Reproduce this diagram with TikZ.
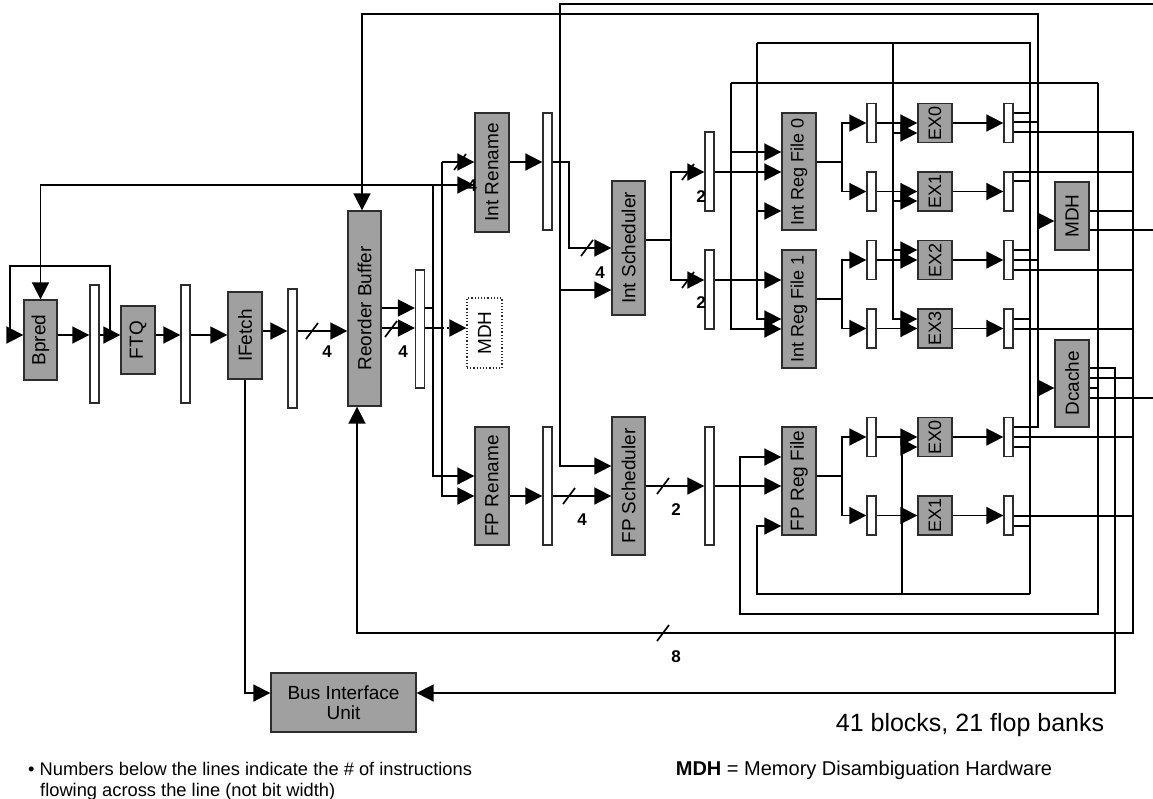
\documentclass[tikz,border=0pt]{standalone}
\usepackage{fontspec}
\setmainfont{Liberation Sans}
\usetikzlibrary{arrows.meta, positioning}
\definecolor{blockgray}{RGB}{160, 160, 160}
\definecolor{edgedark}{RGB}{45, 45, 45}
\newcommand{\busslash}[2]{\draw[wire] (#1,#2) ++(-6,8) -- ++(12,-16);}

\begin{document}
\begin{tikzpicture}[x=1pt, y=-1pt,
    wire/.style={line width=1.7pt},
    arr/.style={line width=1.7pt, -{Triangle[length=17pt, width=17pt]}},
    blk/.style={rectangle, draw=edgedark, fill=blockgray, line width=1.3pt, inner sep=0pt, font=\fontsize{19}{20}\selectfont},
    flop/.style={rectangle, draw=edgedark, fill=white, line width=1.3pt, inner sep=0pt, minimum width=9pt},
    num/.style={inner sep=0pt, font=\fontsize{17}{17}\selectfont\bfseries}]
  \useasboundingbox (0,0) rectangle (1153,798);

  % front end
  \node[blk, minimum width=33, minimum height=80] (bpred) at (40.5,340) {\rotatebox{90}{Bpred}};
  \node[flop, minimum height=118] (fl1) at (94.5,344) {};
  \node[blk, minimum width=34, minimum height=68] (ftq) at (138,340) {\rotatebox{90}{FTQ}};
  \node[flop, minimum height=118] (fl2) at (185.5,344) {};
  \node[blk, minimum width=34, minimum height=87] (ifetch) at (245,335.5) {\rotatebox{90}{IFetch}};
  \node[flop, minimum height=119] (fl3) at (292.5,348.5) {};
  \node[blk, minimum width=33, minimum height=195] (rob) at (364.5,308.5) {\rotatebox{90}{Reorder Buffer}};
  \node[flop, minimum height=118] (fl4) at (420,329) {};
  \node[rectangle, draw=edgedark, dotted, fill=white, line width=1.2pt, inner sep=0pt, minimum width=35, minimum height=70, font=\fontsize{19}{20}\selectfont] (mdhsel) at (484.5,333) {\rotatebox{90}{MDH}};
  \node[blk, minimum width=145, minimum height=59, align=center] (biu) at (343.5,702.5) {Bus Interface\\Unit};

  % integer side
  \node[blk, minimum width=34, minimum height=119] (irn) at (492,172.5) {\rotatebox{90}{Int Rename}};
  \node[flop, minimum height=117] (fl5) at (547.5,171.5) {};
  \node[blk, minimum width=33, minimum height=134] (isch) at (628.5,248) {\rotatebox{90}{Int Scheduler}};
  \node[flop, minimum height=79] (fl6) at (709.5,171.5) {};
  \node[flop, minimum height=79] (fl7) at (709.5,289.5) {};
  \node[blk, minimum width=34, minimum height=117, font=\fontsize{18}{18}\selectfont] (irf0) at (799,171.5) {\rotatebox{90}{Int Reg File 0}};
  \node[blk, minimum width=34, minimum height=118, font=\fontsize{18}{18}\selectfont] (irf1) at (799,309) {\rotatebox{90}{Int Reg File 1}};
  \foreach \i/\y in {0/123, 1/191.5, 2/260, 3/328.5} {
    \node[flop, minimum height=39] (fe\i) at (871.5,\y) {};
    \node[blk, minimum width=34, minimum height=39, font=\fontsize{18}{18}\selectfont] (ex\i) at (935,\y) {\rotatebox{90}{EX\i}};
    \node[flop, minimum height=39] (fa\i) at (1008.5,\y) {};
    \draw[arr] (fe\i) -- (ex\i);
    \draw[arr] (ex\i) -- (fa\i);
  }
  \node[blk, minimum width=34, minimum height=68] (mdh) at (1072,216) {\rotatebox{90}{MDH}};
  \node[blk, minimum width=34, minimum height=87] (dcache) at (1072,383.5) {\rotatebox{90}{Dcache}};

  % floating point side
  \node[blk, minimum width=34, minimum height=118] (fprn) at (492,486) {\rotatebox{90}{FP Rename}};
  \node[flop, minimum height=118] (fl8) at (547.5,486) {};
  \node[blk, minimum width=33, minimum height=138] (fpsch) at (628.5,486) {\rotatebox{90}{FP Scheduler}};
  \node[flop, minimum height=118] (fl9) at (709.5,486) {};
  \node[blk, minimum width=34, minimum height=108] (fprf) at (799,481) {\rotatebox{90}{FP Reg File}};
  \foreach \i/\y in {0/437, 1/515.5} {
    \node[flop, minimum height=39] (ffe\i) at (871.5,\y) {};
    \node[blk, minimum width=34, minimum height=39, font=\fontsize{18}{18}\selectfont] (fex\i) at (935,\y) {\rotatebox{90}{EX\i}};
    \node[flop, minimum height=39] (ffa\i) at (1008.5,\y) {};
    \draw[arr] (ffe\i) -- (fex\i);
    \draw[arr] (fex\i) -- (ffa\i);
  }

  % fetch pipe
  \draw[arr] (bpred.east|-0,335) -- (fl1.west|-0,335);
  \draw[arr] (fl1.east|-0,335) -- (ftq.west|-0,335);
  \draw[arr] (110,335) |- (10,266) |- (bpred.west|-0,335);
  \draw[arr] (ftq.east|-0,335) -- (fl2.west|-0,335);
  \draw[arr] (fl2.east|-0,335) -- (ifetch.west|-0,335);
  \draw[arr] (ifetch.east|-0,331) -- (fl3.west|-0,331);
  \draw[arr] (fl3.east|-0,331) -- (rob.west|-0,331);
  \busslash{312}{331}
  \draw[arr] (ifetch.south) |- (biu.west|-0,693);

  % reorder buffer to rename
  \draw[arr] (rob.east|-0,308) -- (fl4.west|-0,308);
  \draw[arr] (rob.east|-0,328) -- (fl4.west|-0,328);
  \busslash{391}{329}
  \draw[wire] (fl4.east|-0,308) -- (433,308);
  \draw[arr] (433,185) -| (bpred.north);
  \draw[arr] (433,185) -- (irn.west|-0,185);
  \draw[arr] (433,185) |- (fprn.west|-0,476);
  \draw[wire] (fl4.east|-0,328) -- (442,328);
  \draw[arr] (442,162) -- (irn.west|-0,162);
  \busslash{460}{162}
  \draw[arr] (442,162) |- (fprn.west|-0,496);
  \draw[arr, dash pattern=on 2pt off 2.5pt] (442,328) -- (mdhsel.west|-0,328);

  % rename to schedulers
  \draw[arr] (irn.east|-0,162) -- (fl5.west|-0,162);
  \draw[arr] (fl5.east|-0,162) -| (569,248) -- (isch.west|-0,248);
  \busslash{587}{248}
  \draw[arr] (1153,4) -| (560,466) -- (fpsch.west|-0,466);
  \draw[arr] (560,290) -- (isch.west|-0,290);
  \draw[arr] (fprn.east|-0,496) -- (fl8.west|-0,496);
  \draw[arr] (fl8.east|-0,496) -- (fpsch.west|-0,496);
  \busslash{569}{496}

  % schedulers to register files
  \draw[wire] (isch.east|-0,240) -- (671,240);
  \draw[arr] (671,240) |- (fl6.west|-0,172);
  \draw[arr] (671,240) |- (fl7.west|-0,280);
  \busslash{688}{172}
  \busslash{688}{280}
  \draw[arr] (fl6.east|-0,172) -- (irf0.west|-0,172);
  \draw[arr] (fl7.east|-0,280) -- (irf1.west|-0,280);
  \draw[arr] (fpsch.east|-0,486) -- (fl9.west|-0,486);
  \busslash{663}{486}
  \draw[arr] (fl9.east|-0,486) -- (fprf.west|-0,486);

  % register files to execute
  \draw[wire] (irf0.east|-0,162) -- (842,162);
  \draw[arr] (842,162) |- (fe0.west);
  \draw[arr] (842,162) |- (fe1.west);
  \draw[wire] (irf1.east|-0,299) -- (842,299);
  \draw[arr] (842,299) |- (fe2.west);
  \draw[arr] (842,299) |- (fe3.west);
  \draw[wire] (fprf.east|-0,476) -- (842,476);
  \draw[arr] (842,476) |- (ffe0.west);
  \draw[arr] (842,476) |- (ffe1.west);

  % bypass bus at y=43
  \draw[wire] (1030,594) -- (1030,43) -- (757,43);
  \draw[arr] (757,43) |- (irf1.west|-0,319);
  \draw[arr] (757,211) -- (irf0.west|-0,211);
  \draw[arr] (893,43) |- (ex3.west|-0,319);
  \draw[arr] (893,133) -- (ex0.west|-0,133);
  \draw[arr] (893,201) -- (ex1.west|-0,201);
  \draw[arr] (893,250) -- (ex2.west|-0,250);
  \draw[wire] (fa0.east|-0,113) -- (1030,113);
  \draw[wire] (fa1.east|-0,181) -- (1030,181);
  \draw[wire] (fa2.east|-0,250) -- (1030,250);
  \draw[wire] (fa3.east|-0,319) -- (1030,319);
  \draw[wire] (ffa0.east|-0,447) -- (1030,447);
  \draw[wire] (ffa1.east|-0,526) -- (1030,526);
  \draw[arr] (1030,594) -- (757,594) |- (fprf.west|-0,526);
  \draw[arr] (902,594) |- (fex0.west|-0,447);

  % bypass bus at y=83
  \draw[wire] (1098,83) -- (731,83);
  \draw[arr] (731,83) |- (irf1.west|-0,329);
  \draw[arr] (731,152) -- (irf0.west|-0,152);
  \draw[arr] (1098,83) |- (740,614) |- (fprf.west|-0,457);
  \draw[wire] (dcache.east|-0,388) -- (1098,388);

  % retire bus to reorder buffer top
  \draw[arr] (ffa0.east|-0,427) -| (1038,14) -| (rob.north -| 362,0);
  \draw[wire] (fa0.east|-0,122) -- (1038,122);
  \draw[wire] (fa2.east|-0,260) -- (1038,260);
  \draw[arr] (1038,221) -- (mdh.west|-0,221);
  \draw[arr] (1038,388) -- (dcache.west|-0,388);

  % completion bus to reorder buffer bottom
  \draw[arr] (fa0.east|-0,132) -| (1133,633) -| (rob.south -| 357,0);
  \busslash{663}{633}
  \draw[wire] (fa1.east|-0,172) -- (1133,172);
  \draw[wire] (mdh.east|-0,211) -- (1133,211);
  \draw[wire] (fa2.east|-0,270) -- (1133,270);
  \draw[wire] (fa3.east|-0,329) -- (1133,329);
  \draw[wire] (dcache.east|-0,378) -- (1133,378);
  \draw[wire] (ffa0.east|-0,437) -- (1133,437);
  \draw[wire] (ffa1.east|-0,516) -- (1133,516);

  % memory side
  \draw[arr] (dcache.east|-0,368) -| (1115,693) -- (biu.east|-0,693);
  \draw[wire] (mdh.east|-0,230) -- (1153,230);
  \draw[wire] (dcache.east|-0,398) -- (1153,398);

  % widths
  \node[num] (w1) at (327,352) {4};
  \node[num] (w2) at (403,352) {4};
  \node[num] (w3) at (472,186) {4};
  \node[num] (w4) at (600,273) {4};
  \node[num] (w5) at (701,197) {2};
  \node[num] (w6) at (701,303) {2};
  \node[num] (w7) at (582,520) {4};
  \node[num] (w8) at (676,510) {2};
  \node[num] (w9) at (676,657) {8};

  % notes
  \node[anchor=base west, inner sep=0pt, font=\fontsize{18.3}{20}\selectfont] (note1) at (28,775) {\textbullet\ Numbers below the lines indicate the \# of instructions};
  \node[anchor=base west, inner sep=0pt, font=\fontsize{18.3}{20}\selectfont] (note2) at (40,796) {flowing across the line (not bit width)};
  \node[anchor=base, inner sep=0pt, font=\fontsize{25}{27}\selectfont] (count) at (970,731) {41 blocks, 21 flop banks};
  \node[anchor=base, inner sep=0pt, font=\fontsize{20}{21}\selectfont] (legend) at (864,775) {\textbf{MDH} = Memory Disambiguation Hardware};
\end{tikzpicture}
\end{document}
